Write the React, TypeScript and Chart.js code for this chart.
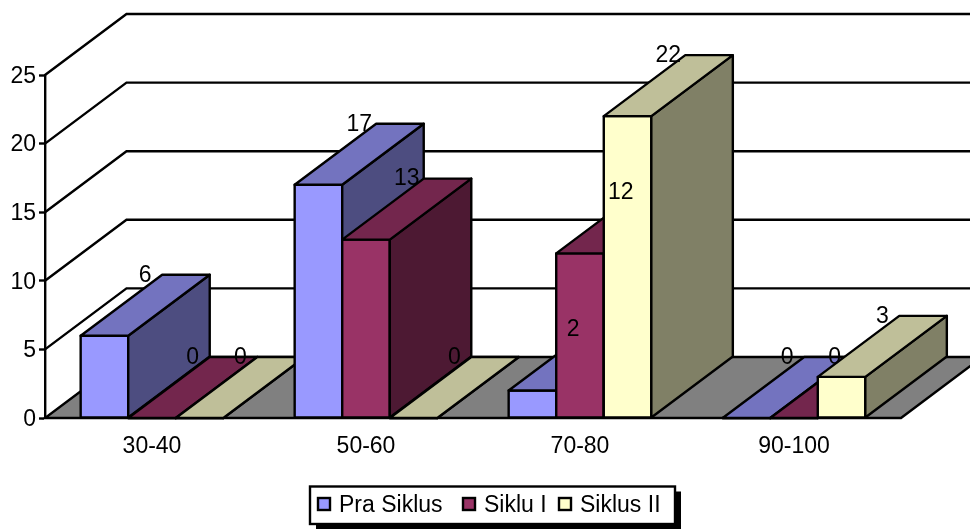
import React, { useEffect, useRef } from "react";
import { Chart, registerables } from "chart.js";

Chart.register(...registerables);

const categories = ["30-40", "50-60", "70-80", "90-100"];
const praSiklus = [6, 17, 2, 0];
const sikluI = [0, 13, 12, 0];
const siklusII = [0, 0, 22, 3];
const yTicks = [0, 5, 10, 15, 20, 25];

const FONT = '"Liberation Sans", Arial, sans-serif';
const FONT_SIZE = 23;
const INK = "#000000";
const STROKE = 2.4;

// Oblique projection of the depth axis, in canvas pixels.
const DEPTH_X = 81.5;
const DEPTH_Y = 61;

type Shade = { front: string; top: string; side: string };
const shades: Shade[] = [
  { front: "#9999FF", top: "#7373BF", side: "#4D4D80" },
  { front: "#993366", top: "#73264D", side: "#4D1933" },
  { front: "#FFFFCC", top: "#BFBF99", side: "#808066" },
];

function polygon(ctx: CanvasRenderingContext2D, pts: number[][], fill?: string) {
  ctx.beginPath();
  pts.forEach(([x, y], i) => (i ? ctx.lineTo(x, y) : ctx.moveTo(x, y)));
  ctx.closePath();
  if (fill) {
    ctx.fillStyle = fill;
    ctx.fill();
  }
  ctx.stroke();
}

// Floor slab plus the receding gridlines on the side and back walls.
const wallsPlugin = {
  id: "walls",
  beforeDatasetsDraw(chart: any) {
    const { ctx, chartArea, scales } = chart;
    const { left, right, bottom } = chartArea;
    ctx.save();
    ctx.strokeStyle = INK;
    ctx.lineWidth = STROKE;
    ctx.lineJoin = "miter";
    polygon(
      ctx,
      [
        [left, bottom],
        [right, bottom],
        [right + DEPTH_X, bottom - DEPTH_Y],
        [left + DEPTH_X, bottom - DEPTH_Y],
      ],
      "#808080"
    );
    yTicks.forEach((v) => {
      const y = scales.y.getPixelForValue(v);
      if (v === 0) return;
      ctx.beginPath();
      ctx.moveTo(left, y);
      ctx.lineTo(left + DEPTH_X, y - DEPTH_Y);
      ctx.lineTo(right + DEPTH_X, y - DEPTH_Y);
      ctx.stroke();
    });
    ctx.restore();
  },
};

// Paints bars category by category, left to right, so each bar overlaps the
// faces of whatever lies behind it; side and top faces follow the front face.
const extrudePlugin = {
  id: "extrude",
  beforeDatasetDraw() {
    return false;
  },
  afterDatasetsDraw(chart: any) {
    const { ctx } = chart;
    ctx.save();
    ctx.strokeStyle = INK;
    ctx.lineWidth = STROKE;
    ctx.lineJoin = "round";
    categories.forEach((_: string, j: number) => {
      chart.data.datasets.forEach((__: any, index: number) => {
        const bar = chart.getDatasetMeta(index).data[j];
        const shade = shades[index];
        bar.draw(ctx);
        const x0 = bar.x - bar.width / 2;
        const x1 = bar.x + bar.width / 2;
        const yTop = bar.y;
        const yBase = bar.base;
        polygon(ctx, [
          [x0, yTop],
          [x1, yTop],
          [x1, yBase],
          [x0, yBase],
        ]);
        polygon(
          ctx,
          [
            [x1, yTop],
            [x1 + DEPTH_X, yTop - DEPTH_Y],
            [x1 + DEPTH_X, yBase - DEPTH_Y],
            [x1, yBase],
          ],
          shade.side
        );
        polygon(
          ctx,
          [
            [x0, yTop],
            [x0 + DEPTH_X, yTop - DEPTH_Y],
            [x1 + DEPTH_X, yTop - DEPTH_Y],
            [x1, yTop],
          ],
          shade.top
        );
      });
    });
    ctx.restore();
  },
};

// Value labels sit halfway along the top face's width, at its back edge.
const valueLabelsPlugin = {
  id: "valueLabels",
  afterDatasetsDraw(chart: any) {
    const { ctx } = chart;
    ctx.save();
    ctx.fillStyle = INK;
    ctx.font = `${FONT_SIZE}px ${FONT}`;
    ctx.textAlign = "center";
    ctx.textBaseline = "middle";
    chart.data.datasets.forEach((ds: any, i: number) => {
      chart.getDatasetMeta(i).data.forEach((bar: any, j: number) => {
        ctx.fillText(String(ds.data[j]), bar.x + DEPTH_X / 2, bar.y - DEPTH_Y + 0.5);
      });
    });
    ctx.restore();
  },
};

// Framed legend with a hard drop shadow.
const legendBoxPlugin = {
  id: "legendBox",
  afterDraw(chart: any) {
    const { ctx } = chart;
    const box = { x: 310, y: 486.5, w: 365, h: 37.5 };
    const swatchX = [318, 463, 559];
    const textX = [339, 484, 580];
    ctx.save();
    ctx.fillStyle = INK;
    ctx.fillRect(box.x + 6, box.y + 5, box.w, box.h);
    ctx.fillStyle = "#FFFFFF";
    ctx.strokeStyle = INK;
    ctx.lineWidth = STROKE;
    ctx.fillRect(box.x, box.y, box.w, box.h);
    ctx.strokeRect(box.x, box.y, box.w, box.h);
    ctx.font = `${FONT_SIZE}px ${FONT}`;
    ctx.textBaseline = "middle";
    chart.data.datasets.forEach((ds: any, i: number) => {
      ctx.fillStyle = ds.backgroundColor;
      ctx.fillRect(swatchX[i], 498, 12, 12);
      ctx.strokeRect(swatchX[i], 498, 12, 12);
      ctx.fillStyle = INK;
      ctx.fillText(ds.label, textX[i], 506);
    });
    ctx.restore();
  },
};

export default function App() {
  const canvasRef = useRef<HTMLCanvasElement>(null);

  useEffect(() => {
    const bar = (label: string, data: number[], i: number) => ({
      label,
      data,
      backgroundColor: shades[i].front,
      borderWidth: 0,
    });
    const chart = new Chart(canvasRef.current!, {
      type: "bar",
      data: {
        labels: categories,
        datasets: [
          bar("Pra Siklus", praSiklus, 0),
          bar("Siklu I", sikluI, 1),
          bar("Siklus II", siklusII, 2),
        ],
      },
      plugins: [wallsPlugin, extrudePlugin, valueLabelsPlugin, legendBoxPlugin],
      options: {
        animation: false,
        responsive: false,
        layout: { padding: { left: 0, top: 75, right: 69, bottom: 72 } },
        datasets: { bar: { categoryPercentage: 2 / 3, barPercentage: 1 } },
        plugins: { legend: { display: false }, tooltip: { enabled: false } },
        scales: {
          x: {
            afterFit: (s: any) => {
              s.height = 40;
            },
            grid: { display: false, drawTicks: false },
            border: { display: false },
            ticks: {
              color: INK,
              padding: 15,
              maxRotation: 0,
              font: { family: FONT, size: FONT_SIZE },
            },
          },
          y: {
            min: 0,
            max: 25,
            afterFit: (s: any) => {
              s.width = 45;
            },
            afterBuildTicks: (s: any) => {
              s.ticks = yTicks.map((value) => ({ value }));
            },
            grid: {
              drawOnChartArea: false,
              tickLength: 6,
              tickColor: INK,
              tickWidth: STROKE,
            },
            border: { color: INK, width: STROKE },
            ticks: {
              color: INK,
              padding: 3,
              labelOffset: 1.5,
              font: { family: FONT, size: FONT_SIZE },
            },
          },
        },
      },
    });
    return () => chart.destroy();
  }, []);

  return (
    <div style={{ position: "absolute", left: 0, top: 0, width: 970, height: 530, background: "#FFFFFF" }}>
      <canvas ref={canvasRef} width={970} height={530} style={{ display: "block" }} />
    </div>
  );
}
